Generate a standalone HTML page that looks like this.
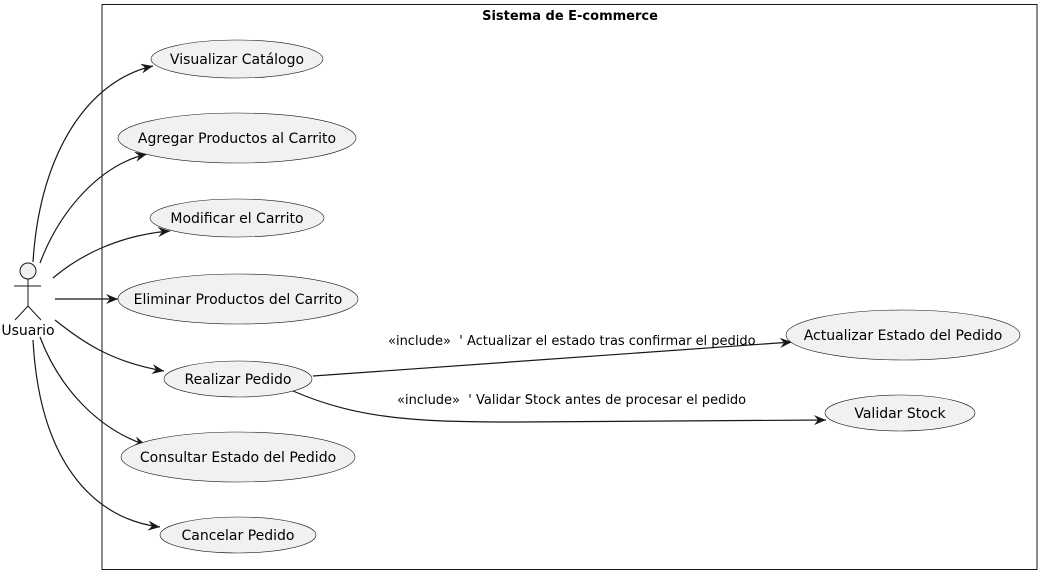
<!DOCTYPE html>
<html><head><meta charset="utf-8"><style>
html,body{margin:0;padding:0;background:#fff;}
svg{display:block;font-family:"DejaVu Sans","Liberation Sans",sans-serif;}
</style></head><body>
<svg width="1044" height="577" viewBox="0 0 1044 577" xmlns="http://www.w3.org/2000/svg">
<defs>
<marker id="a" markerWidth="14" markerHeight="12" refX="12" refY="5" orient="auto" markerUnits="userSpaceOnUse">
<path d="M0,0 L12,5 L0,10 L4,5 z" fill="#181818"/>
</marker>
</defs>
<rect x="102" y="4.5" width="935" height="565" fill="none" stroke="#181818" stroke-width="1"/>
<text x="570" y="20" text-anchor="middle" font-size="13" font-weight="bold" fill="#000">Sistema de E-commerce</text>

<g stroke="#181818" fill="none" stroke-width="1">
<circle cx="28" cy="271" r="8" fill="#f1f1f1"/>
<line x1="28" y1="279" x2="28" y2="306"/>
<line x1="14" y1="286" x2="41" y2="286"/>
<line x1="28" y1="306" x2="15" y2="320"/>
<line x1="28" y1="306" x2="41" y2="320"/>
</g>
<text x="28" y="335" text-anchor="middle" font-size="14" fill="#000">Usuario</text>

<g stroke="#181818" fill="none" stroke-width="1.2" marker-end="url(#a)">
<path d="M33,262 C40,150 90,80 153,66"/>
<path d="M40,263 C60,210 100,165 147,154"/>
<path d="M53,278 C80,255 120,235 170,231"/>
<path d="M55,299 L118,299"/>
<path d="M55,320 C80,340 110,362 164,371"/>
<path d="M40,337 C60,390 100,430 146,445"/>
<path d="M33,340 C40,470 100,520 160,527"/>
<path d="M313,376 L792,342"/>
<path d="M293,391 C360,420 420,422 520,422 L826,420"/>
</g>

<g fill="#f1f1f1" stroke="#181818" stroke-width="0.6">
<ellipse cx="237" cy="59" rx="86" ry="19"/>
<ellipse cx="237" cy="138" rx="119" ry="25"/>
<ellipse cx="237" cy="218" rx="87" ry="19"/>
<ellipse cx="238" cy="299" rx="120" ry="25"/>
<ellipse cx="238" cy="379" rx="74" ry="18"/>
<ellipse cx="238" cy="457" rx="117" ry="25"/>
<ellipse cx="238" cy="535" rx="78" ry="18"/>
<ellipse cx="903" cy="335" rx="117" ry="25"/>
<ellipse cx="900" cy="413" rx="75" ry="18"/>
</g>
<g font-size="14" fill="#000" text-anchor="middle">
<text x="237" y="64">Visualizar Catálogo</text>
<text x="237" y="143">Agregar Productos al Carrito</text>
<text x="237" y="223">Modificar el Carrito</text>
<text x="238" y="304">Eliminar Productos del Carrito</text>
<text x="238" y="384">Realizar Pedido</text>
<text x="238" y="462">Consultar Estado del Pedido</text>
<text x="238" y="540">Cancelar Pedido</text>
<text x="903" y="340">Actualizar Estado del Pedido</text>
<text x="900" y="418">Validar Stock</text>
</g>
<g font-size="13" fill="#000">
<text x="388" y="345">«include» &#160;' Actualizar el estado tras confirmar el pedido</text>
<text x="397" y="404">«include» &#160;' Validar Stock antes de procesar el pedido</text>
</g>
</svg>
</body></html>
